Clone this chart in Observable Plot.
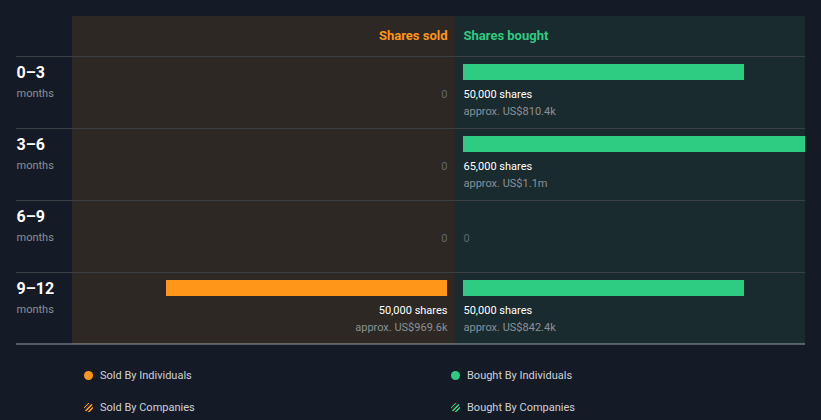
<!DOCTYPE html>
<html>
<head>
<meta charset="utf-8">
<script src="https://cdn.jsdelivr.net/npm/d3@7"></script>
<script src="https://cdn.jsdelivr.net/npm/@observablehq/plot@0.6"></script>
<style>
  html, body { margin: 0; padding: 0; background: #151b26; }
  body { width: 821px; height: 420px; overflow: hidden; font-family: Roboto, sans-serif; }
  #chart svg { display: block; }
  #legend { position: relative; height: 70px; color: #cdd1d6; font-size: 11px; }
  .item { position: absolute; display: flex; align-items: center; height: 16px; }
  .sw { width: 9px; height: 9px; border-radius: 50%; margin-right: 7px; box-sizing: border-box; }
</style>
</head>
<body>
<div id="chart"></div>
<div id="legend"></div>
<script>
const periods = ["0–3", "3–6", "6–9", "9–12"];
const periodUnit = "months";
const soldShares = [0, 0, 0, 50000];
const soldValue = [null, null, null, "US$969.6k"];
const boughtShares = [50000, 65000, 0, 50000];
const boughtValue = ["US$810.4k", "US$1.1m", null, "US$842.4k"];
const headers = { sold: "Shares sold", bought: "Shares bought" };
const legendItems = [
  { label: "Sold By Individuals", kind: "solid", side: "sold" },
  { label: "Bought By Individuals", kind: "solid", side: "bought" },
  { label: "Sold By Companies", kind: "hatch", side: "sold" },
  { label: "Bought By Companies", kind: "hatch", side: "bought" }
];

const ORANGE = "#ff9519";
const GREEN = "#2ecc82";
const xMin = -68150, xMax = 62280;

const rows = periods.map((p, i) => ({
  i, period: p,
  sold: soldShares[i], soldValue: soldValue[i],
  bought: boughtShares[i], boughtValue: boughtValue[i]
}));
const fmt = d3.format(",");
const sharesText = v => v === 0 ? "0" : fmt(v) + " shares";

const chart = Plot.plot({
  width: 821,
  height: 350,
  marginTop: 56,
  marginBottom: 6,
  marginLeft: 16,
  marginRight: 16,
  x: { domain: [xMin, xMax], range: [72, 805], axis: null },
  y: { domain: [0, periods.length], reverse: true, axis: null },
  style: { background: "transparent", fontFamily: "Roboto, sans-serif", overflow: "visible" },
  marks: [
    Plot.rect([0], { x1: xMin, x2: 0, y1: 0, y2: periods.length, insetTop: -40, fill: "#2d2823" }),
    Plot.rect([0], { x1: 0, x2: xMax, y1: 0, y2: periods.length, insetTop: -40, fill: "#1a2b2f" }),
    Plot.ruleY(rows, { y: "i", stroke: "#3c3f43", strokeWidth: 1 }),
    Plot.ruleY([periods.length], { stroke: "#9aa0a6", strokeWidth: 1, dy: -0.5 }),
    Plot.text([headers.sold], { x: 0, y: 0, dx: -8, dy: -17, text: d => d, textAnchor: "end", lineAnchor: "bottom", fill: ORANGE, fontSize: 13, fontWeight: 700 }),
    Plot.text([headers.bought], { x: 0, y: 0, dx: 8, dy: -17, text: d => d, textAnchor: "start", lineAnchor: "bottom", fill: GREEN, fontSize: 13, fontWeight: 700 }),
    Plot.text(rows, { y: "i", text: "period", frameAnchor: "left", textAnchor: "start", lineAnchor: "bottom", dy: 21, fill: "#ffffff", fontSize: 16, fontWeight: 700 }),
    Plot.text(rows, { y: "i", text: () => periodUnit, frameAnchor: "left", textAnchor: "start", lineAnchor: "bottom", dy: 40, fill: "#8b9097", fontSize: 11 }),
    Plot.rect(rows.filter(d => d.sold > 0), { x1: 0, x2: d => -d.sold, y1: "i", y2: d => d.i + 1, insetTop: 8, insetBottom: 48, dx: -8, fill: ORANGE, clip: "frame" }),
    Plot.rect(rows.filter(d => d.bought > 0), { x1: 0, x2: "bought", y1: "i", y2: d => d.i + 1, insetTop: 8, insetBottom: 48, dx: 8, fill: GREEN, clip: "frame" }),
    Plot.text(rows, { x: 0, y: "i", dx: -8, dy: 41, text: d => sharesText(d.sold), textAnchor: "end", lineAnchor: "bottom", fill: d => d.sold === 0 ? "#62676d" : "#ffffff", fontSize: 11, fontWeight: d => d.sold === 0 ? 400 : 500 }),
    Plot.text(rows, { x: 0, y: "i", dx: 8, dy: 41, text: d => sharesText(d.bought), textAnchor: "start", lineAnchor: "bottom", fill: d => d.bought === 0 ? "#62676d" : "#ffffff", fontSize: 11, fontWeight: d => d.bought === 0 ? 400 : 500 }),
    Plot.text(rows.filter(d => d.soldValue), { x: 0, y: "i", dx: -8, dy: 58, text: d => "approx. " + d.soldValue, textAnchor: "end", lineAnchor: "bottom", fill: "#8b9097", fontSize: 11 }),
    Plot.text(rows.filter(d => d.boughtValue), { x: 0, y: "i", dx: 8, dy: 58, text: d => "approx. " + d.boughtValue, textAnchor: "start", lineAnchor: "bottom", fill: "#8b9097", fontSize: 11 })
  ]
});
document.getElementById("chart").appendChild(chart);

const legend = document.getElementById("legend");
const pos = { sold: 84, bought: 451 };
legendItems.forEach((it) => {
  const row = it.kind === "solid" ? 0 : 1;
  const color = it.side === "sold" ? ORANGE : GREEN;
  const el = document.createElement("div");
  el.className = "item";
  el.style.left = pos[it.side] + "px";
  el.style.top = (17 + row * 32) + "px";
  const sw = document.createElement("span");
  sw.className = "sw";
  if (it.kind === "solid") {
    sw.style.background = color;
  } else {
    sw.style.background = `repeating-linear-gradient(135deg, ${color} 0 1.3px, #2b2b2b 1.3px 2.9px)`;
  }
  const tx = document.createElement("span");
  tx.textContent = it.label;
  el.appendChild(sw);
  el.appendChild(tx);
  legend.appendChild(el);
});
</script>
</body>
</html>
